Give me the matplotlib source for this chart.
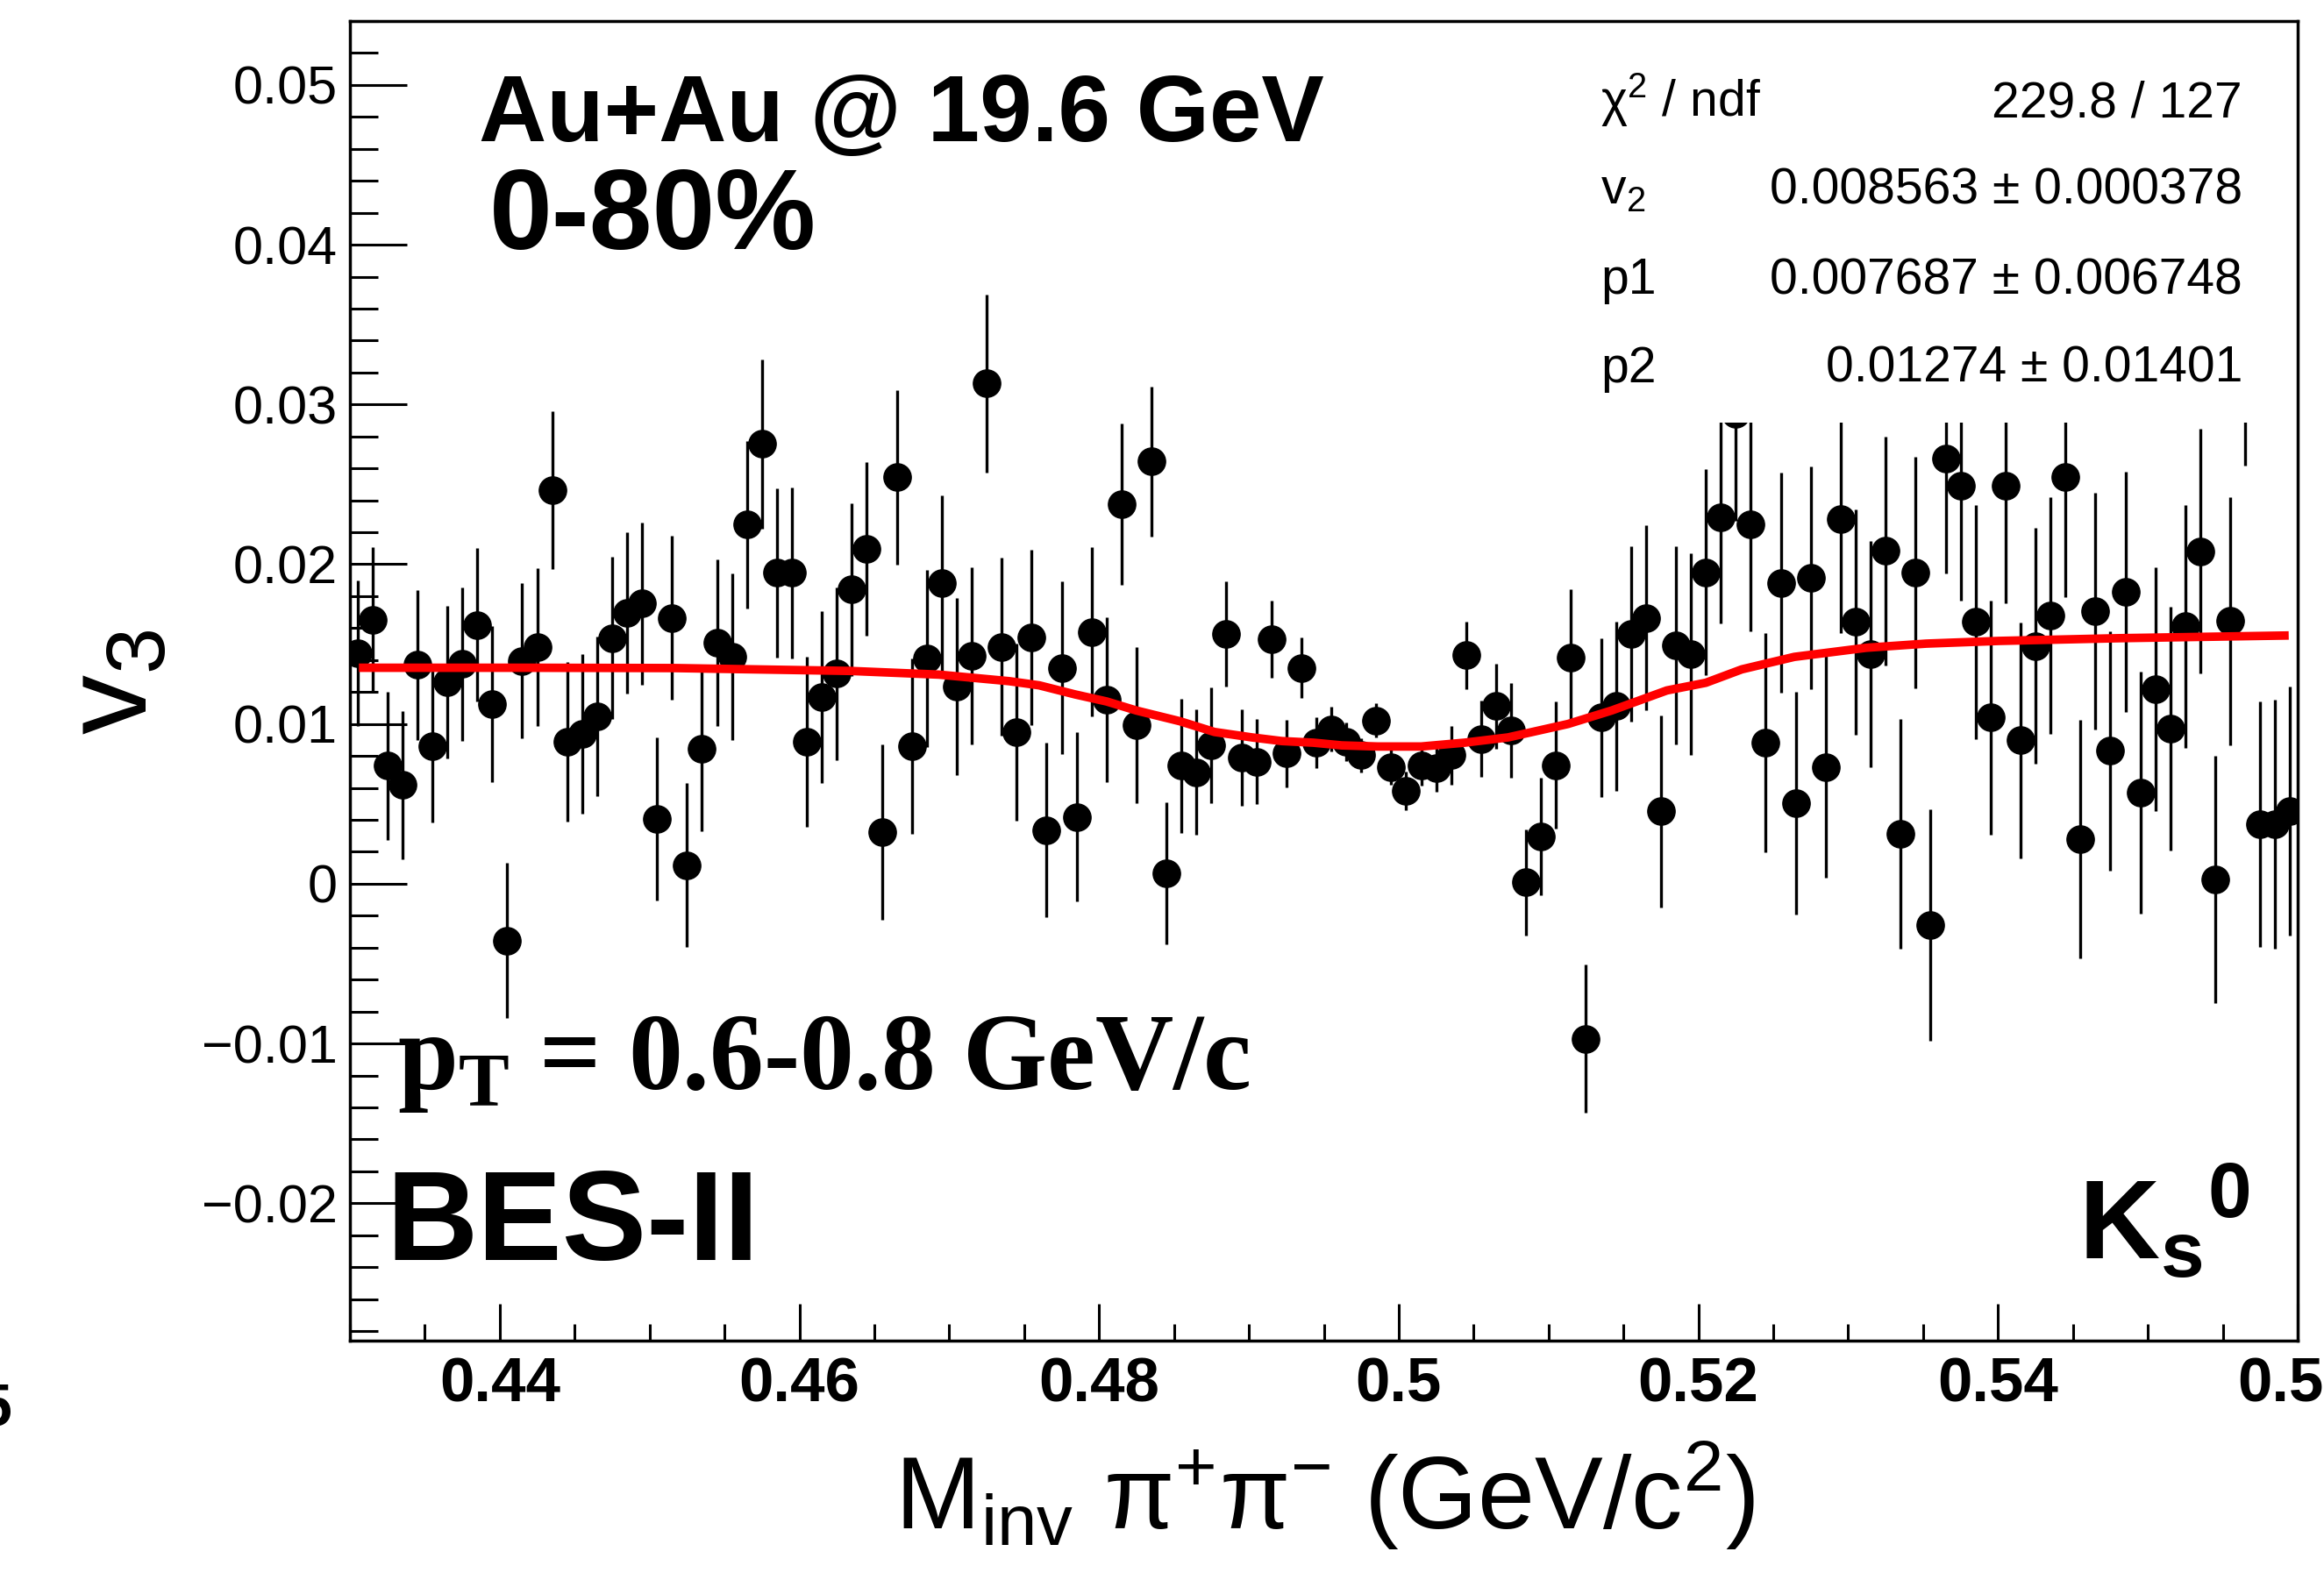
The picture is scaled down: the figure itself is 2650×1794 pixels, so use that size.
import matplotlib
matplotlib.use('Agg')
import matplotlib.pyplot as plt
import numpy as np
from matplotlib.patches import Rectangle
from matplotlib.ticker import MultipleLocator

#v3 vs invariant mass for Ks0, Au+Au 19.6 GeV, 0-80%, pT 0.6-0.8 GeV/c

plt.rcParams['font.family'] = ['Liberation Sans', 'DejaVu Sans']
plt.rcParams['mathtext.fontset'] = 'custom'
plt.rcParams['mathtext.rm'] = 'Liberation Sans'
plt.rcParams['mathtext.it'] = 'Liberation Sans:italic'
plt.rcParams['mathtext.bf'] = 'Liberation Sans:bold'
plt.rcParams['mathtext.sf'] = 'Liberation Serif:bold'

#-------------------------------------------------------------
#data (130 bins, 0.43 - 0.56 GeV/c^2)
mass = np.linspace(0.4305, 0.5595, 130)   #bin centres

v3 = [
    0.01443, 0.01654, 0.00738, 0.00617, 0.01369, 0.00859, 0.01262, 0.01376, 0.01621, 0.01124,
    -0.00356, 0.01396, 0.01483, 0.02463, 0.00889, 0.00940, 0.01047, 0.01537, 0.01698, 0.01755,
    0.00406, 0.01664, 0.00117, 0.00846, 0.01510, 0.01420, 0.02248, 0.02752, 0.01946, 0.01946,
    0.00889, 0.01168, 0.01315, 0.01842, 0.02097, 0.00322, 0.02544, 0.00859, 0.01409, 0.01883,
    0.01235, 0.01426, 0.03131, 0.01483, 0.00950, 0.01544, 0.00336, 0.01352, 0.00419, 0.01577,
    0.01151, 0.02376, 0.00993, 0.02644, 0.00067, 0.00738, 0.00698, 0.00866, 0.01564, 0.00792,
    0.00765, 0.01530, 0.00815, 0.01352, 0.00883, 0.00968, 0.00889, 0.00805, 0.01023, 0.00732,
    0.00580, 0.00742, 0.00722, 0.00805, 0.01430, 0.00906, 0.01111, 0.00960, 0.00010, 0.00295,
    0.00742, 0.01413, -0.00970, 0.01040, 0.01111, 0.01564, 0.01664, 0.00453, 0.01493, 0.01436,
    0.01950, 0.02292, 0.02940, 0.02252, 0.00883, 0.01883, 0.00503, 0.01916, 0.00732, 0.02282,
    0.01638, 0.01436, 0.02084, 0.00312, 0.01950, -0.00258, 0.02661, 0.02493, 0.01638, 0.01040,
    0.02493, 0.00899, 0.01487, 0.01678, 0.02544, 0.00279, 0.01705, 0.00832, 0.01829, 0.00570,
    0.01218, 0.00973, 0.01611, 0.02081, 0.00027, 0.01644, 0.03390, 0.00372, 0.00372, 0.00453,
]

v3_err = [
    0.00458, 0.00453, 0.00465, 0.00466, 0.00470, 0.00475, 0.00477, 0.00480, 0.00478, 0.00487,
    0.00487, 0.00487, 0.00495, 0.00493, 0.00498, 0.00500, 0.00498, 0.00507, 0.00505, 0.00508,
    0.00512, 0.00513, 0.00512, 0.00515, 0.00520, 0.00523, 0.00523, 0.00528, 0.00530, 0.00534,
    0.00533, 0.00537, 0.00542, 0.00540, 0.00545, 0.00549, 0.00547, 0.00549, 0.00554, 0.00550,
    0.00554, 0.00555, 0.00557, 0.00557, 0.00554, 0.00549, 0.00547, 0.00539, 0.00532, 0.00529,
    0.00517, 0.00503, 0.00487, 0.00470, 0.00445, 0.00420, 0.00391, 0.00361, 0.00330, 0.00302,
    0.00268, 0.00242, 0.00211, 0.00188, 0.00161, 0.00140, 0.00120, 0.00107, 0.00107, 0.00112,
    0.00122, 0.00126, 0.00148, 0.00185, 0.00213, 0.00238, 0.00268, 0.00299, 0.00332, 0.00366,
    0.00398, 0.00428, 0.00465, 0.00498, 0.00528, 0.00550, 0.00579, 0.00599, 0.00620, 0.00630,
    0.00646, 0.00661, 0.00670, 0.00670, 0.00685, 0.00688, 0.00696, 0.00696, 0.00696, 0.00711,
    0.00705, 0.00708, 0.00716, 0.00718, 0.00725, 0.00725, 0.00721, 0.00722, 0.00735, 0.00733,
    0.00738, 0.00738, 0.00738, 0.00742, 0.00748, 0.00747, 0.00742, 0.00748, 0.00752, 0.00755,
    0.00762, 0.00763, 0.00762, 0.00767, 0.00772, 0.00775, 0.00775, 0.00770, 0.00778, 0.00780,
]

#fit curve (red)
fit_m = [0.4306, 0.4418, 0.4517, 0.4634, 0.4693, 0.4740, 0.4760, 0.4784, 0.4805, 0.4825,
         0.4854, 0.4877, 0.4902, 0.4922, 0.4943, 0.4962, 0.4986, 0.5015, 0.5044, 0.5073,
         0.5113, 0.5142, 0.5179, 0.5205, 0.5229, 0.5264, 0.5312, 0.5352, 0.5401, 0.5481, 0.5594]
fit_v = [0.01352, 0.01352, 0.01350, 0.01332, 0.01309, 0.01268, 0.01242, 0.01185, 0.01141, 0.01084,
         0.01017, 0.00950, 0.00916, 0.00893, 0.00883, 0.00866, 0.00859, 0.00859, 0.00883, 0.00916,
         0.01000, 0.01084, 0.01210, 0.01258, 0.01342, 0.01420, 0.01477, 0.01503, 0.01520, 0.01537, 0.01554]

xticks = [0.44, 0.46, 0.48, 0.50, 0.52, 0.54, 0.56]
xtick_labels = ['0.44', '0.46', '0.48', '0.5', '0.52', '0.54', '0.56']
yticks = [-0.02, -0.01, 0.0, 0.01, 0.02, 0.03, 0.04, 0.05]
ytick_labels = ['\u22120.02', '\u22120.01', '0', '0.01', '0.02', '0.03', '0.04', '0.05']

stat_names = [r'$\mathrm{\chi}^{\mathrm{2}}$ / ndf', r'$\mathrm{v}_{\mathrm{2}}$', 'p1', 'p2']
stat_values = ['229.8 / 127', '0.008563 \u00b1 0.000378', '0.007687 \u00b1 0.006748', '0.01274 \u00b1 0.01401']

#-------------------------------------------------------------
W, H = 2650, 1794
def fx(x):
    return x / W
def fy(y):
    return 1 - y / H

fig = plt.figure(figsize=(W / 100, H / 100), dpi=100)
ax = fig.add_axes([fx(399), fy(1529), (2620 - 399) / W, (1529 - 24) / H])

ax.errorbar(mass, v3, yerr=v3_err, fmt='o', color='black', ms=22.5,
            elinewidth=2.4, capsize=0, zorder=3)
ax.plot(fit_m, fit_v, color='#ff0000', lw=7, zorder=4, solid_capstyle='butt')

ax.set_xlim(0.43, 0.56)
ax.set_ylim(-0.0286, 0.054)

ax.set_xticks(xticks, labels=xtick_labels, fontsize=51, fontweight='bold')
ax.set_yticks(yticks, labels=ytick_labels, fontsize=44)
ax.xaxis.set_minor_locator(MultipleLocator(0.005))
ax.yaxis.set_minor_locator(MultipleLocator(0.002))
ax.tick_params(axis='both', which='both', direction='in', top=False, right=False, width=2.2)
ax.tick_params(axis='y', which='major', length=47, pad=10)
ax.tick_params(axis='y', which='minor', length=23)
ax.tick_params(axis='x', which='major', length=30, pad=13)
ax.tick_params(axis='x', which='minor', length=14)
for s in ax.spines.values():
    s.set_linewidth(2.5)
    s.set_zorder(10)

#stat box (white, no border) hides the points behind it
ax.add_patch(Rectangle((0.6263, 0.6957), 1 - 0.6263, 1 - 0.6957, transform=ax.transAxes,
                       facecolor='white', edgecolor='none', zorder=6))
baselines = [133, 232, 335, 436]
for name, val, yb in zip(stat_names, stat_values, baselines):
    fig.text(fx(1825), fy(yb), name, fontsize=41, va='baseline', ha='left', zorder=7)
    fig.text(fx(2557), fy(yb), val, fontsize=41, va='baseline', ha='right', zorder=7)

#axis titles
fig.text(fx(132), fy(778), r'v$_{\mathrm{3}}$', fontsize=98, rotation=90, ha='center', va='center')
fig.text(fx(1511), fy(1744), r'M$_{\mathrm{inv}}$ π$^{\mathrm{+}}$π$^{\mathrm{-}}$ (GeV/c$^{\mathrm{2}}$)',
         fontsize=84, ha='center', va='baseline')

#labels inside the frame
fig.text(fx(546), fy(161), 'Au+Au @ 19.6 GeV', fontsize=77, fontweight='bold', va='baseline')
fig.text(fx(558), fy(284), '0-80%', fontsize=93, fontweight='bold', va='baseline')
fig.text(fx(453), fy(1242), r'$\mathsf{p}_{\mathsf{T}}$ = 0.6-0.8 GeV/c', fontsize=89,
         fontweight='bold', family='Liberation Serif', va='baseline')
fig.text(fx(440), fy(1437), 'BES-II', fontsize=104, fontweight='bold', va='baseline')
fig.text(fx(2566), fy(1437), r'K$_{\mathbf{s}}$$^{\mathbf{0}}$', fontsize=92, fontweight='bold',
         va='baseline', ha='right')

#piece of the neighbouring pad's tick label at the left edge
fig.text(-24 / W, fy(1607), '5', fontsize=49, fontweight='bold', va='center', ha='left')

fig.savefig('out.png', dpi=100)
